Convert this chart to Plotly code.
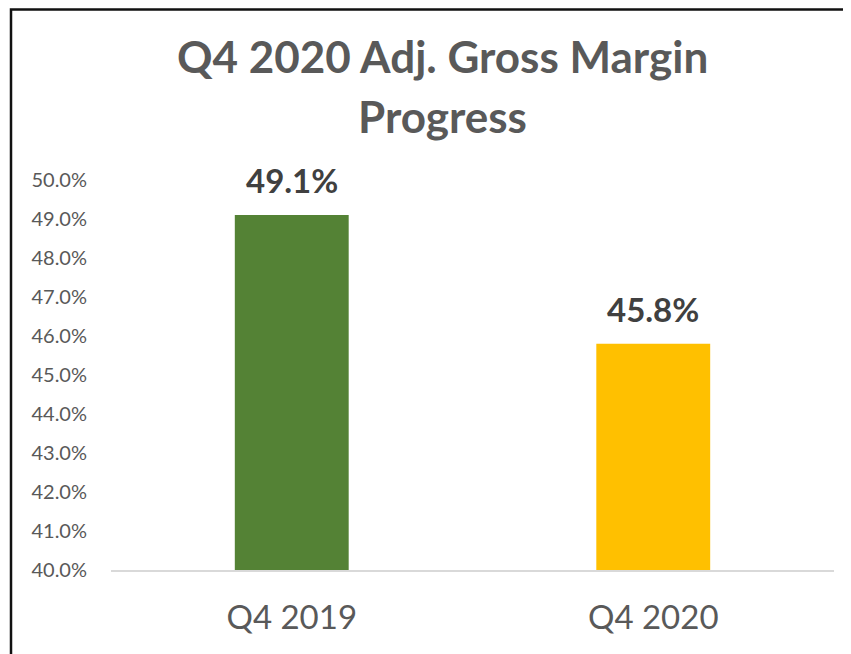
import plotly.graph_objects as go

categories = ["Q4 2019", "Q4 2020"]
values = [49.1, 45.8]
bar_colors = ["#548235", "#FFC000"]
value_labels = ["49.1%", "45.8%"]
title_lines = ["Q4 2020 Adj. Gross Margin", "Progress"]
y_ticks = [40, 41, 42, 43, 44, 45, 46, 47, 48, 49, 50]
y_tick_text = [f"{v:.1f}%" for v in y_ticks]
base_value = 40

FONT = "Lato"
fig = go.Figure()
fig.add_trace(go.Bar(
    x=categories, y=[v - base_value for v in values], base=base_value,
    marker=dict(color=bar_colors, line=dict(width=0)),
    width=0.315, hoverinfo="skip",
))

for c, v, t in zip(categories, values, value_labels):
    fig.add_annotation(x=c, y=v, text=f"<b>{t}</b>", showarrow=False,
                       yanchor="bottom", yshift=13,
                       font=dict(family=FONT, size=33, color="#404040"))

fig.add_annotation(x=0.458, xref="paper", y=(570 - 56) / 390, yref="paper",
                   text=f"<b>{title_lines[0]}</b>", showarrow=False, yanchor="middle",
                   font=dict(family=FONT, size=44, color="#595959"))
fig.add_annotation(x=0.458, xref="paper", y=(570 - 116) / 390, yref="paper",
                   text=f"<b>{title_lines[1]}</b>", showarrow=False, yanchor="middle",
                   font=dict(family=FONT, size=44, color="#595959"))

fig.add_shape(type="rect", xref="paper", yref="paper",
              x0=(11 - 111) / 723, x1=1.2, y0=-0.4, y1=(570 - 9.5) / 390,
              line=dict(color="#111111", width=2.5), fillcolor="rgba(0,0,0,0)", layer="below")

fig.update_layout(
    width=843, height=646,
    margin=dict(l=103, r=17, t=172, b=84),
    paper_bgcolor="white", plot_bgcolor="white",
    showlegend=False,
    xaxis=dict(showgrid=False, showline=True, linecolor="#d9d9d9", linewidth=2,
               ticks="", tickfont=dict(family=FONT, size=33, color="#595959"),
               ticklabelstandoff=17),
    yaxis=dict(range=[40, 50], showgrid=False, showline=False, zeroline=False,
               tickvals=y_ticks, ticktext=y_tick_text, ticks="",
               tickfont=dict(family=FONT, size=20, color="#595959"),
               ticklabelstandoff=23),
)

fig.write_html("out.html")
